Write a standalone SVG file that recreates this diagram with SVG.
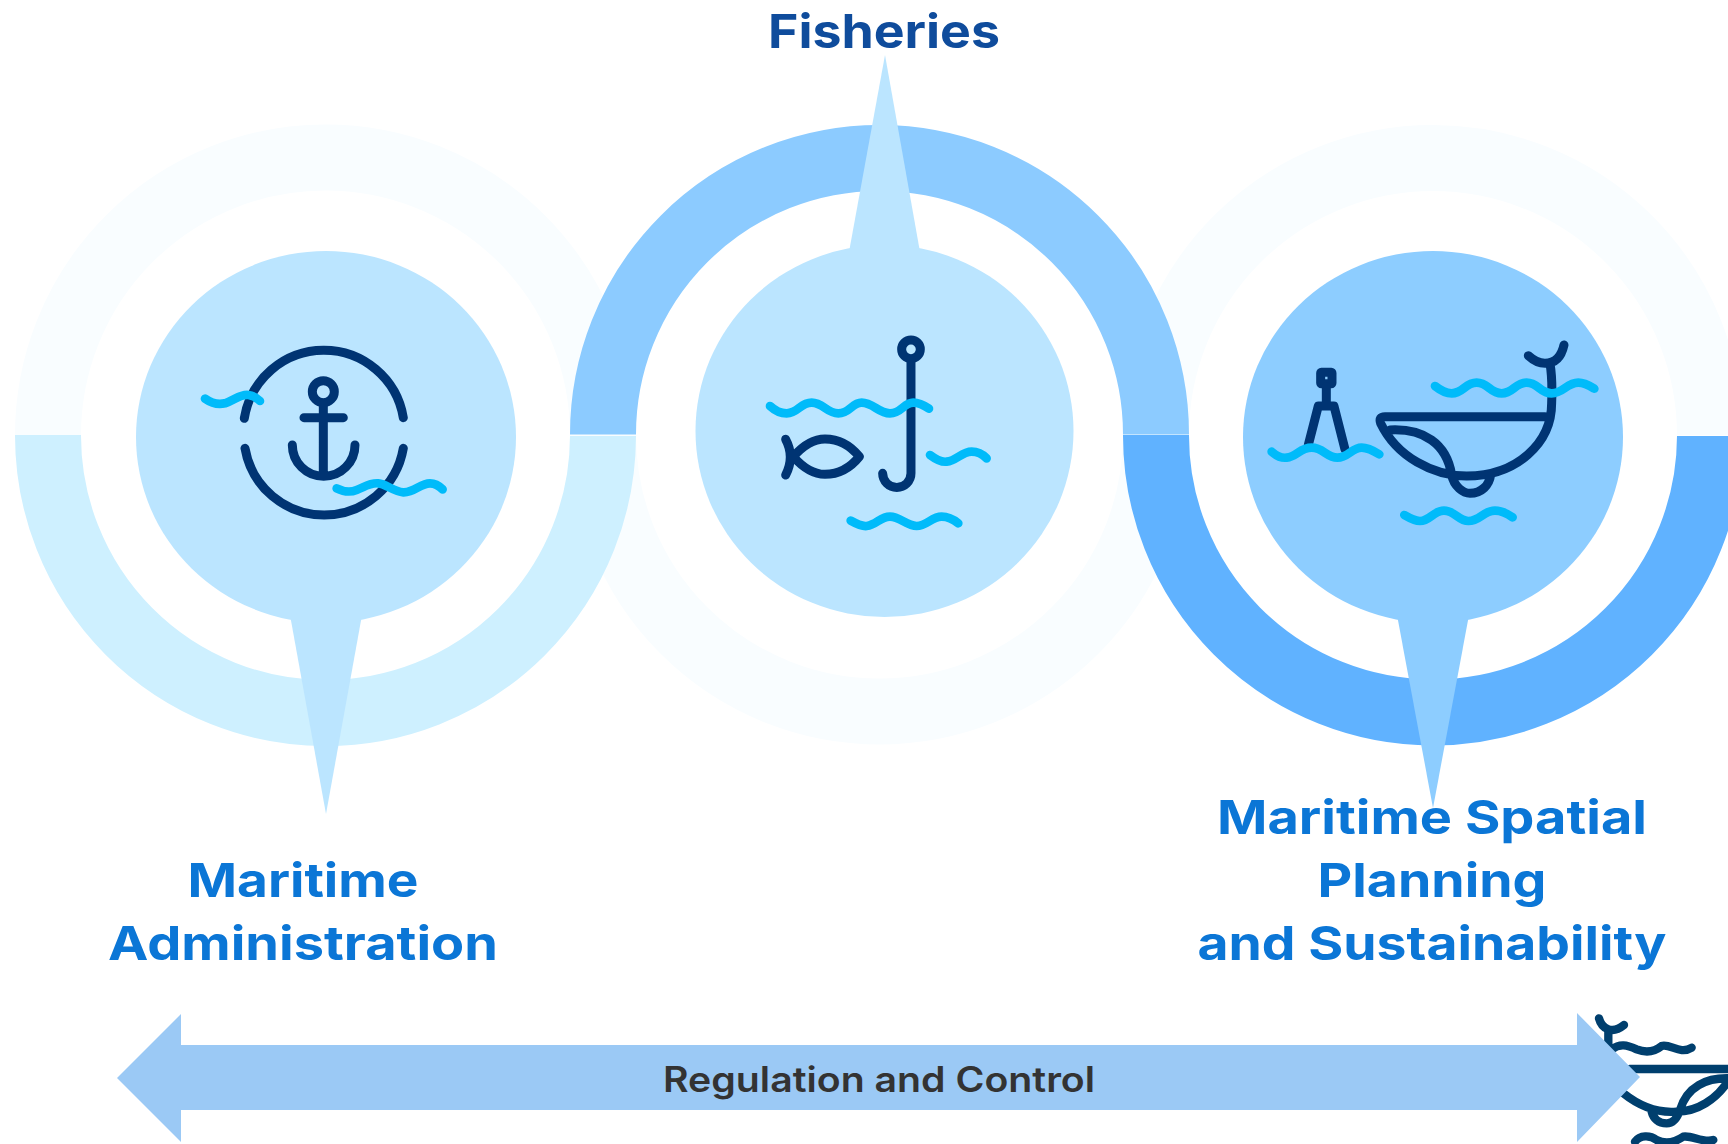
<svg xmlns="http://www.w3.org/2000/svg" width="1728" height="1144" viewBox="0 0 1728 1144">
<style>
.ic{fill:none;stroke:#003473;stroke-width:27;stroke-linecap:round;stroke-linejoin:round}
.wv{fill:none;stroke:#00BBFA;stroke-width:26;stroke-linecap:round}
.ghost{fill:none;stroke:#003F6E;stroke-width:25;stroke-linecap:round;stroke-linejoin:round}
.lb{font-family:Inter,"Open Sans","Liberation Sans",sans-serif;font-weight:700;font-size:47px;text-anchor:middle;fill:#0B76D6}
.ring{fill:none;stroke-width:66}
</style>
<rect width="1728" height="1144" fill="#fff"/>
<g id="connectors">
<path class="ring" stroke="#F9FDFF" d="M48 435A277 277 0 0 1 603 435"/>
<path class="ring" stroke="#F9FDFF" d="M1156 435A277 277 0 0 1 1710 435"/>
<path class="ring" stroke="#F9FDFF" d="M603 435A276 276 0 0 0 1156 435"/>
<path class="ring" stroke="#CEF0FF" d="M48 435A277 277 0 0 0 603 436"/>
<path class="ring" stroke="#8CCBFF" d="M603 434.500A276.500 276.500 0 0 1 1156 434.500"/>
<path class="ring" stroke="#60B2FF" d="M1156 435A277 277 0 0 0 1710 436"/>
</g>
<g id="node-maritime-administration">
<ellipse cx="326" cy="437" rx="190" ry="186" fill="#BBE5FF"/>
<polygon points="290,615 362,615 326,814" fill="#BBE5FF"/>
<g transform="translate(180 320) scale(.3333)">
<path class="ic" d="M193 295A241.600 241.600 0 0 1 670 293M195 385A241 241 0 0 0 670 385"/>
<circle class="ic" cx="430" cy="215" r="33"/>
<path class="ic" d="M372 293H490M430 250V465M337 375A94 94 0 0 0 525 375"/>
<path class="wv" d="M75 236C95 250 115 255 135 250C165 240 180 222 205 225C220 227 232 235 240 243"/>
<path class="wv" d="M470 505C490 515 510 518 530 510C555 500 570 488 595 490C620 492 640 515 670 517C705 518 720 490 750 490C765 490 778 498 788 508"/>
</g>
<text class="lb" x="303" y="897" textLength="231" lengthAdjust="spacingAndGlyphs">Maritime</text>
<text class="lb" x="303" y="960" textLength="390" lengthAdjust="spacingAndGlyphs">Administration</text>
</g>
<g id="node-fisheries">
<ellipse cx="884.500" cy="431" rx="189" ry="186" fill="#BBE5FF"/>
<polygon points="849,252 920,252 885,55" fill="#BBE5FF"/>
<g transform="translate(740 320) scale(.3333)">
<circle class="ic" cx="513" cy="88" r="28"/>
<path class="ic" d="M513 120V460A42.500 42.500 0 0 1 428 460"/>
<path class="ic" d="M137 358Q165 410 137 465M160 410C195 370 225 357 255 357C295 357 330 375 358 410C330 445 295 463 255 463C225 463 195 450 160 410Z"/>
<path class="wv" d="M90 258C105 272 125 280 140 280C175 280 180 248 215 248C250 248 260 280 295 280C330 280 335 248 365 248C400 248 415 280 450 280C485 280 490 248 520 248C540 248 555 258 567 266"/>
<path class="wv" d="M570 405C590 420 605 427 620 425C650 422 665 395 695 395C715 395 730 405 740 415"/>
<path class="wv" d="M332 602C350 612 365 620 380 618C410 615 420 590 450 590C480 590 500 618 530 618C560 618 575 590 605 590C625 590 645 602 655 610"/>
</g>
<text class="lb" x="884" y="48" textLength="232" lengthAdjust="spacingAndGlyphs" style="fill:#0F4C9C">Fisheries</text>
</g>
<g id="node-maritime-spatial-planning">
<ellipse cx="1433" cy="437" rx="190" ry="186" fill="#8DCDFF"/>
<polygon points="1397,615 1469,615 1433,808" fill="#8DCDFF"/>
<g transform="translate(1250 320) scale(.3333)">
<rect class="ic" x="212" y="157" width="34" height="34" rx="2"/>
<path class="ic" d="M229 200V255M175 375L205 258H252L285 388"/>
<path class="ic" d="M885 290H405Q385 290 392 310C440 410 550 468 650 468C800 468 905 370 905 250C907 200 905 160 900 130M420 330C520 325 590 370 605 465C612 500 640 520 660 520C695 520 718 495 722 465M835 107Q860 130 885 130Q930 130 942 75"/>
<path class="wv" d="M65 395C80 408 95 415 110 413C140 410 150 383 185 383C220 383 230 413 262 413C295 413 305 383 335 383C355 383 375 395 388 403"/>
<path class="wv" d="M555 198C570 210 590 220 605 220C640 220 645 188 680 188C715 188 720 220 755 220C790 220 795 188 830 188C865 188 870 220 905 220C940 220 950 188 985 188C1005 188 1020 198 1033 206"/>
<path class="wv" d="M463 585C480 595 495 603 510 603C540 603 550 572 582 572C615 572 625 603 655 603C690 603 700 572 735 572C755 572 775 583 788 592"/>
</g>
<text class="lb" x="1432" y="834" textLength="430" lengthAdjust="spacingAndGlyphs">Maritime Spatial</text>
<text class="lb" x="1432" y="897" textLength="229" lengthAdjust="spacingAndGlyphs">Planning</text>
<text class="lb" x="1432" y="960" textLength="469" lengthAdjust="spacingAndGlyphs">and Sustainability</text>
</g>
<g id="node-regulation">
<g transform="translate(1540 1000) scale(.3333)">
<path class="ghost" d="M177 55C185 85 215 105 252 75M205 95V150M215 148C240 130 260 135 290 148C315 158 340 158 365 138C390 130 420 165 455 143"/>
<path class="ghost" d="M270 207H570M250 280C300 320 350 340 410 335C470 335 530 300 570 235M570 235C500 232 440 260 420 330C410 360 395 370 380 370C355 370 340 355 335 335"/>
<path class="ghost" d="M285 425C300 405 330 405 350 420C375 432 400 430 430 410C455 405 490 430 520 420"/>
</g>
<polygon points="117,1078 181,1014 181,1045 1577,1045 1577,1013 1640,1077 1577,1142 1577,1110 181,1110 181,1142" fill="#9BC9F5"/>
<text x="879" y="1092" text-anchor="middle" textLength="432" lengthAdjust="spacingAndGlyphs" style="font-family:Inter,'Open Sans','Liberation Sans',sans-serif;font-weight:600;font-size:35px;fill:#333">Regulation and Control</text>
</g>
</svg>
